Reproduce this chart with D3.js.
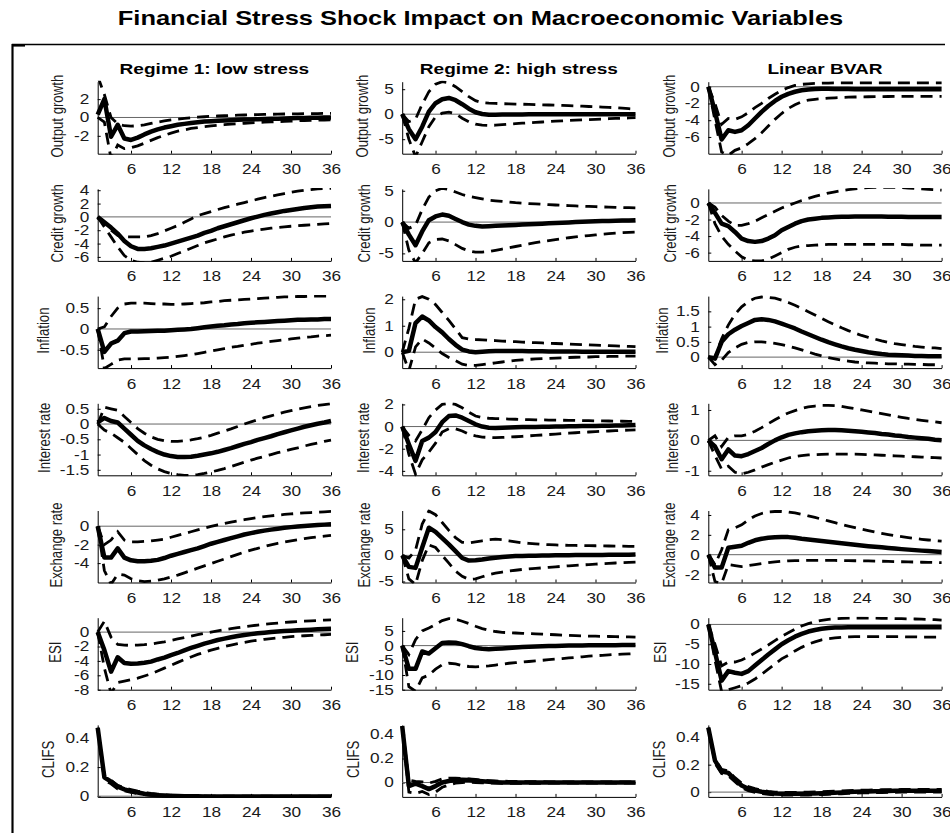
<!DOCTYPE html>
<html>
<head>
<meta charset="utf-8">
<script src="https://cdn.jsdelivr.net/npm/d3@7"></script>
<style>
body { margin: 0; background: #fff; }
svg { display: block; font-family: "Liberation Sans", Arial, Helvetica, sans-serif; }
</style>
</head>
<body>
<svg id="chart" width="950" height="833"></svg>
<script>
var title = 'Financial Stress Shock Impact on Macroeconomic Variables';
var models = ['Regime 1: low stress', 'Regime 2: high stress', 'Linear BVAR'];
var variables = ['Output growth', 'Credit growth', 'Inflation', 'Interest rate', 'Exchange rate', 'ESI', 'CLIFS'];
var horizons = d3.range(1, 37);
var xTicks = [6, 12, 18, 24, 30, 36];

// axis limits and tick labels, one entry per model column
var yLimits = [
	[[-3.95, 3.9], [-7.9, 6.5], [-8, 0.6]],
	[[-6.6, 4.2], [-6.2, 5.3], [-7, 1.7]],
	[[-0.94, 0.79], [-0.6, 2.12], [-0.36, 2.0]],
	[[-1.68, 0.68], [-4.4, 2.1], [-1.15, 1.22]],
	[[-6.1, 1.7], [-5.2, 8.6], [-2.8, 4.45]],
	[[-8, 2], [-15, 9.5], [-16.5, 1.7]],
	[[-0.005, 0.49], [-0.12, 0.48], [-0.035, 0.49]]
];
var yTicks = [
	[[-2, 0, 2], [-5, 0, 5], [-6, -4, -2, 0]],
	[[-6, -4, -2, 0, 2, 4], [-5, 0, 5], [-6, -4, -2, 0]],
	[[-0.5, 0, 0.5], [0, 1, 2], [0, 0.5, 1, 1.5]],
	[[-1.5, -1, -0.5, 0, 0.5], [-4, -2, 0, 2], [-1, 0, 1]],
	[[-4, -2, 0], [-5, 0, 5], [-2, 0, 2, 4]],
	[[-8, -6, -4, -2, 0], [-15, -10, -5, 0, 5], [-15, -10, -5, 0]],
	[[0, 0.2, 0.4], [0, 0.2, 0.4], [0, 0.2, 0.4]]
];

// impulse responses: median, lower and upper band, horizons 1..36
var outputLowMed = [0.3, 2.0, -2.1, -0.8, -2.3, -2.45, -2.2, -1.85, -1.55, -1.3, -1.1, -0.95, -0.8, -0.7, -0.6, -0.52, -0.45, -0.4, -0.36, -0.32, -0.29, -0.26, -0.23, -0.21, -0.19, -0.17, -0.15, -0.13, -0.11, -0.09, -0.07, -0.05, -0.04, -0.02, -0.01, 0.0];
var outputLowLo = [0.0, -0.5, -4.5, -3.0, -3.4, -3.3, -3.1, -2.8, -2.5, -2.2, -1.95, -1.7, -1.5, -1.35, -1.2, -1.1, -1.0, -0.92, -0.85, -0.79, -0.73, -0.68, -0.63, -0.59, -0.55, -0.51, -0.48, -0.45, -0.42, -0.39, -0.36, -0.34, -0.32, -0.3, -0.28, -0.26];
var outputLowHi = [4.5, 2.5, 0.0, -0.7, -0.9, -0.95, -0.9, -0.8, -0.65, -0.5, -0.38, -0.27, -0.18, -0.1, -0.03, 0.03, 0.08, 0.12, 0.16, 0.19, 0.22, 0.25, 0.27, 0.29, 0.31, 0.33, 0.35, 0.36, 0.38, 0.39, 0.4, 0.41, 0.42, 0.43, 0.44, 0.45];
var outputHighMed = [0, -3, -5, -2.5, 0.5, 2.2, 3.0, 3.25, 2.8, 2.0, 1.1, 0.4, 0.05, -0.1, -0.1, -0.08, -0.06, -0.05, -0.04, -0.03, -0.03, -0.02, -0.02, -0.01, -0.01, 0, 0, 0, 0, 0, 0, 0, 0, 0, 0, 0];
var outputHighLo = [0, -5, -8.5, -5.5, -2.5, -0.5, 0.2, 0.4, 0.1, -0.8, -1.5, -2.0, -2.2, -2.25, -2.2, -2.1, -2.0, -1.9, -1.8, -1.72, -1.64, -1.56, -1.48, -1.4, -1.33, -1.26, -1.2, -1.14, -1.08, -1.02, -0.96, -0.9, -0.85, -0.8, -0.75, -0.7];
var outputHighHi = [0, -1.5, -1.0, 2.0, 4.5, 6.0, 6.5, 6.3, 5.5, 4.5, 3.5, 2.7, 2.3, 2.2, 2.15, 2.1, 2.07, 2.03, 2.0, 1.96, 1.92, 1.88, 1.84, 1.8, 1.75, 1.7, 1.65, 1.6, 1.54, 1.48, 1.42, 1.36, 1.3, 1.2, 1.1, 1.0];
var outputLinMed = [0, -3, -6.3, -5.2, -5.4, -5.2, -4.6, -3.8, -3.0, -2.3, -1.7, -1.2, -0.85, -0.6, -0.42, -0.32, -0.27, -0.25, -0.25, -0.26, -0.27, -0.28, -0.29, -0.3, -0.3, -0.3, -0.3, -0.3, -0.3, -0.3, -0.3, -0.3, -0.3, -0.3, -0.3, -0.3];
var outputLinLo = [0, -4, -7.8, -8.2, -7.6, -7.3, -6.8, -6.2, -5.5, -4.7, -3.9, -3.2, -2.6, -2.15, -1.8, -1.6, -1.5, -1.42, -1.36, -1.32, -1.28, -1.25, -1.23, -1.21, -1.2, -1.19, -1.18, -1.17, -1.16, -1.15, -1.15, -1.15, -1.15, -1.15, -1.15, -1.15];
var outputLinHi = [0, -2, -4.5, -3.8, -3.9, -3.6, -3.1, -2.5, -2.0, -1.4, -0.9, -0.45, -0.1, 0.15, 0.28, 0.35, 0.4, 0.42, 0.44, 0.45, 0.45, 0.45, 0.45, 0.45, 0.45, 0.45, 0.45, 0.45, 0.45, 0.45, 0.45, 0.45, 0.45, 0.45, 0.45, 0.45];

var creditLowMed = [0, -0.8, -1.6, -2.5, -3.6, -4.4, -4.8, -4.8, -4.7, -4.5, -4.3, -4.0, -3.7, -3.4, -3.1, -2.8, -2.4, -2.1, -1.7, -1.4, -1.1, -0.8, -0.5, -0.2, 0.05, 0.3, 0.5, 0.7, 0.9, 1.05, 1.2, 1.35, 1.45, 1.55, 1.6, 1.65];
var creditLowLo = [0, -1.5, -3.0, -4.5, -5.8, -6.5, -6.8, -6.9, -6.8, -6.5, -6.2, -5.9, -5.5, -5.1, -4.7, -4.3, -3.9, -3.6, -3.3, -3.0, -2.75, -2.5, -2.3, -2.12, -1.96, -1.82, -1.7, -1.59, -1.49, -1.4, -1.32, -1.25, -1.18, -1.12, -1.06, -1.0];
var creditLowHi = [0, -0.8, -2.0, -2.8, -3.0, -3.0, -3.0, -3.0, -2.8, -2.5, -2.1, -1.7, -1.3, -0.8, -0.3, 0.2, 0.5, 0.8, 1.1, 1.4, 1.65, 1.9, 2.15, 2.4, 2.65, 2.9, 3.1, 3.3, 3.5, 3.7, 3.85, 4.0, 4.1, 4.2, 4.25, 4.3];
var creditHighMed = [0, -2, -3.7, -1.5, 0.3, 0.9, 1.2, 1.0, 0.5, 0.0, -0.4, -0.6, -0.7, -0.65, -0.6, -0.55, -0.5, -0.45, -0.4, -0.35, -0.3, -0.25, -0.2, -0.15, -0.1, -0.05, 0.0, 0.05, 0.1, 0.13, 0.16, 0.19, 0.22, 0.25, 0.27, 0.3];
var creditHighLo = [0, -4.5, -6.5, -5.0, -3.3, -2.8, -2.7, -3.0, -3.6, -4.2, -4.6, -4.8, -4.8, -4.7, -4.5, -4.3, -4.1, -3.9, -3.7, -3.5, -3.3, -3.1, -2.95, -2.8, -2.65, -2.5, -2.38, -2.26, -2.15, -2.05, -1.95, -1.86, -1.78, -1.7, -1.64, -1.6];
var creditHighHi = [0, -1, -0.5, 2.0, 4.0, 5.0, 5.4, 5.2, 4.8, 4.4, 4.1, 3.9, 3.7, 3.5, 3.4, 3.3, 3.2, 3.1, 3.03, 2.96, 2.9, 2.84, 2.78, 2.73, 2.68, 2.63, 2.58, 2.54, 2.5, 2.46, 2.42, 2.39, 2.36, 2.33, 2.3, 2.28];
var creditLinMed = [0, -1.2, -2.5, -2.8, -3.5, -4.3, -4.6, -4.7, -4.6, -4.3, -3.9, -3.3, -2.9, -2.5, -2.2, -2.0, -1.9, -1.8, -1.75, -1.7, -1.68, -1.66, -1.65, -1.65, -1.65, -1.65, -1.65, -1.66, -1.67, -1.68, -1.69, -1.7, -1.7, -1.7, -1.7, -1.7];
var creditLinLo = [0, -2.5, -4.0, -5.0, -5.8, -6.5, -6.9, -7.0, -7.0, -6.8, -6.4, -6.0, -5.6, -5.35, -5.2, -5.15, -5.1, -5.05, -5.0, -5.0, -5.0, -5.0, -5.0, -5.0, -5.0, -5.0, -5.0, -5.0, -5.0, -5.0, -5.05, -5.05, -5.1, -5.1, -5.1, -5.1];
var creditLinHi = [0, -0.5, -1.5, -2.2, -2.7, -2.7, -2.5, -2.2, -1.8, -1.4, -1.0, -0.6, -0.3, 0.0, 0.3, 0.55, 0.8, 1.0, 1.2, 1.35, 1.5, 1.6, 1.7, 1.8, 1.85, 1.9, 1.9, 1.9, 1.88, 1.85, 1.8, 1.75, 1.7, 1.65, 1.6, 1.55];

var inflationLowMed = [0, -0.55, -0.35, -0.28, -0.1, -0.06, -0.06, -0.055, -0.05, -0.045, -0.04, -0.03, -0.02, -0.01, 0.0, 0.02, 0.04, 0.06, 0.08, 0.09, 0.11, 0.12, 0.14, 0.15, 0.16, 0.17, 0.18, 0.19, 0.2, 0.21, 0.22, 0.22, 0.23, 0.23, 0.24, 0.24];
var inflationLowLo = [0, -0.95, -0.85, -0.75, -0.72, -0.72, -0.72, -0.71, -0.71, -0.7, -0.69, -0.68, -0.66, -0.64, -0.62, -0.59, -0.56, -0.53, -0.5, -0.47, -0.44, -0.42, -0.39, -0.37, -0.34, -0.32, -0.3, -0.28, -0.26, -0.24, -0.22, -0.2, -0.19, -0.17, -0.16, -0.15];
var inflationLowHi = [0, 0.05, 0.3, 0.5, 0.6, 0.62, 0.62, 0.62, 0.61, 0.6, 0.6, 0.59, 0.59, 0.6, 0.61, 0.62, 0.63, 0.65, 0.66, 0.68, 0.69, 0.7, 0.71, 0.72, 0.73, 0.74, 0.75, 0.76, 0.77, 0.77, 0.78, 0.78, 0.79, 0.79, 0.79, 0.79];
var inflationHighMed = [0, 0.05, 1.1, 1.35, 1.2, 0.95, 0.75, 0.5, 0.28, 0.1, 0.03, 0.0, 0.02, 0.04, 0.05, 0.05, 0.05, 0.05, 0.045, 0.04, 0.04, 0.035, 0.03, 0.03, 0.03, 0.025, 0.025, 0.02, 0.02, 0.02, 0.02, 0.02, 0.02, 0.02, 0.02, 0.02];
var inflationHighLo = [0, -0.7, 0.2, 0.5, 0.35, 0.15, -0.05, -0.2, -0.32, -0.45, -0.5, -0.5, -0.47, -0.44, -0.4, -0.37, -0.34, -0.31, -0.29, -0.27, -0.25, -0.24, -0.23, -0.22, -0.21, -0.2, -0.19, -0.18, -0.18, -0.17, -0.17, -0.16, -0.16, -0.15, -0.15, -0.15];
var inflationHighHi = [0, 0.9, 2.0, 2.1, 2.0, 1.8, 1.5, 1.2, 0.88, 0.55, 0.5, 0.48, 0.47, 0.45, 0.44, 0.42, 0.41, 0.4, 0.38, 0.37, 0.36, 0.35, 0.34, 0.33, 0.32, 0.31, 0.3, 0.29, 0.28, 0.27, 0.26, 0.25, 0.24, 0.23, 0.22, 0.21];
var inflationLinMed = [0, -0.05, 0.5, 0.75, 0.9, 1.02, 1.12, 1.22, 1.24, 1.22, 1.17, 1.1, 1.02, 0.94, 0.84, 0.75, 0.66, 0.57, 0.49, 0.42, 0.35, 0.29, 0.24, 0.2, 0.16, 0.13, 0.1, 0.08, 0.07, 0.06, 0.05, 0.04, 0.04, 0.03, 0.03, 0.03];
var inflationLinLo = [0, -0.25, -0.1, 0.15, 0.3, 0.42, 0.48, 0.5, 0.5, 0.48, 0.45, 0.41, 0.36, 0.3, 0.24, 0.17, 0.1, 0.04, -0.02, -0.06, -0.1, -0.13, -0.16, -0.18, -0.19, -0.2, -0.21, -0.22, -0.22, -0.23, -0.23, -0.24, -0.24, -0.25, -0.25, -0.25];
var inflationLinHi = [0, 0.0, 0.6, 1.05, 1.4, 1.65, 1.82, 1.93, 1.97, 1.96, 1.93, 1.87, 1.79, 1.7, 1.6, 1.49, 1.38, 1.27, 1.16, 1.06, 0.96, 0.87, 0.79, 0.71, 0.65, 0.59, 0.53, 0.48, 0.44, 0.41, 0.38, 0.35, 0.33, 0.31, 0.3, 0.28];

var rateLowMed = [0.05, 0.2, 0.1, 0.05, -0.15, -0.35, -0.55, -0.7, -0.82, -0.92, -1.0, -1.05, -1.08, -1.08, -1.07, -1.04, -1.0, -0.96, -0.91, -0.85, -0.79, -0.72, -0.65, -0.59, -0.52, -0.46, -0.4, -0.33, -0.27, -0.21, -0.15, -0.09, -0.04, 0.01, 0.05, 0.1];
var rateLowLo = [0, -0.2, -0.3, -0.45, -0.6, -0.8, -1.0, -1.2, -1.35, -1.47, -1.56, -1.62, -1.66, -1.68, -1.68, -1.66, -1.62, -1.57, -1.52, -1.46, -1.39, -1.32, -1.25, -1.18, -1.12, -1.06, -1.0, -0.94, -0.89, -0.83, -0.78, -0.72, -0.67, -0.62, -0.57, -0.53];
var rateLowHi = [0, 0.55, 0.5, 0.45, 0.25, 0.05, -0.15, -0.3, -0.42, -0.5, -0.55, -0.57, -0.57, -0.55, -0.52, -0.48, -0.43, -0.37, -0.3, -0.23, -0.16, -0.08, 0.0, 0.07, 0.14, 0.21, 0.27, 0.33, 0.39, 0.44, 0.49, 0.53, 0.57, 0.61, 0.64, 0.67];
var rateHighMed = [0, -1.6, -3.1, -1.3, -1.0, -0.5, 0.4, 0.95, 1.0, 0.8, 0.5, 0.2, 0.0, -0.1, -0.12, -0.1, -0.08, -0.06, -0.05, -0.04, -0.03, -0.02, -0.01, 0.0, 0.01, 0.02, 0.03, 0.04, 0.05, 0.06, 0.07, 0.08, 0.09, 0.1, 0.12, 0.15];
var rateHighLo = [0, -2.5, -4.3, -3.0, -2.3, -1.5, -0.5, -0.2, -0.2, -0.4, -0.7, -0.85, -0.95, -0.98, -1.0, -0.98, -0.95, -0.92, -0.88, -0.84, -0.8, -0.76, -0.72, -0.68, -0.64, -0.6, -0.56, -0.52, -0.49, -0.46, -0.43, -0.4, -0.37, -0.34, -0.32, -0.3];
var rateHighHi = [0, -0.8, -1.3, -0.3, 0.8, 1.5, 2.0, 2.1, 2.0, 1.7, 1.3, 0.95, 0.8, 0.75, 0.72, 0.7, 0.68, 0.66, 0.64, 0.62, 0.61, 0.6, 0.59, 0.58, 0.57, 0.56, 0.55, 0.54, 0.53, 0.52, 0.51, 0.5, 0.49, 0.48, 0.47, 0.46];
var rateLinMed = [0, -0.2, -0.62, -0.3, -0.5, -0.52, -0.45, -0.35, -0.25, -0.12, 0.0, 0.1, 0.18, 0.23, 0.27, 0.3, 0.32, 0.33, 0.34, 0.34, 0.33, 0.32, 0.3, 0.28, 0.26, 0.24, 0.21, 0.19, 0.16, 0.14, 0.11, 0.09, 0.07, 0.05, 0.02, 0.0];
var rateLinLo = [0, -0.5, -0.95, -0.85, -1.05, -1.1, -1.05, -0.97, -0.88, -0.8, -0.72, -0.65, -0.58, -0.53, -0.5, -0.48, -0.47, -0.46, -0.45, -0.45, -0.45, -0.45, -0.45, -0.46, -0.47, -0.48, -0.49, -0.5, -0.51, -0.52, -0.53, -0.54, -0.55, -0.56, -0.57, -0.58];
var rateLinHi = [0, 0.15, -0.2, 0.1, 0.15, 0.15, 0.2, 0.3, 0.42, 0.55, 0.68, 0.8, 0.9, 0.98, 1.05, 1.1, 1.13, 1.15, 1.15, 1.14, 1.12, 1.08, 1.04, 1.0, 0.96, 0.92, 0.88, 0.84, 0.8, 0.76, 0.72, 0.69, 0.66, 0.63, 0.61, 0.58];

var fxLowMed = [0, -3.4, -3.4, -2.4, -3.4, -3.7, -3.8, -3.8, -3.75, -3.65, -3.45, -3.2, -3.0, -2.8, -2.6, -2.4, -2.15, -1.9, -1.7, -1.5, -1.3, -1.1, -0.9, -0.75, -0.6, -0.48, -0.37, -0.27, -0.18, -0.1, -0.03, 0.03, 0.08, 0.13, 0.17, 0.2];
var fxLowLo = [0, -4.8, -6.3, -5.2, -5.3, -5.7, -5.9, -6.0, -5.95, -5.85, -5.7, -5.5, -5.3, -5.05, -4.8, -4.55, -4.3, -4.05, -3.8, -3.55, -3.3, -3.05, -2.8, -2.6, -2.4, -2.2, -2.02, -1.86, -1.72, -1.58, -1.46, -1.35, -1.25, -1.16, -1.08, -1.0];
var fxLowHi = [0, -2.0, -1.5, -0.6, -1.5, -1.7, -1.7, -1.65, -1.6, -1.5, -1.4, -1.2, -1.0, -0.8, -0.6, -0.4, -0.2, -0.02, 0.15, 0.3, 0.45, 0.58, 0.7, 0.82, 0.93, 1.03, 1.12, 1.2, 1.27, 1.33, 1.39, 1.44, 1.48, 1.52, 1.56, 1.6];
var fxHighMed = [0, -2.2, -2.4, 1.5, 5.3, 4.5, 3.3, 2.1, 0.8, -0.5, -1.0, -0.95, -0.8, -0.6, -0.45, -0.3, -0.2, -0.13, -0.1, -0.08, -0.06, -0.04, -0.02, 0.0, 0.02, 0.04, 0.05, 0.06, 0.07, 0.08, 0.09, 0.1, 0.11, 0.12, 0.13, 0.15];
var fxHighLo = [0, -4.5, -5.6, -1.0, 2.0, 1.5, 0.0, -1.5, -3.0, -4.0, -4.6, -4.5, -4.1, -3.7, -3.4, -3.2, -3.0, -2.85, -2.7, -2.6, -2.5, -2.4, -2.3, -2.2, -2.1, -2.0, -1.92, -1.84, -1.76, -1.68, -1.6, -1.53, -1.46, -1.4, -1.35, -1.3];
var fxHighHi = [0, -0.5, 1.0, 6.0, 8.5, 7.8, 6.3, 4.8, 3.4, 2.5, 2.4, 2.6, 2.8, 3.0, 3.1, 3.0, 2.8, 2.6, 2.4, 2.3, 2.2, 2.1, 2.05, 2.0, 1.95, 1.92, 1.9, 1.88, 1.86, 1.84, 1.82, 1.8, 1.78, 1.76, 1.74, 1.72];
var fxLinMed = [0, -1.3, -1.3, 0.7, 0.8, 0.9, 1.2, 1.45, 1.6, 1.7, 1.75, 1.78, 1.77, 1.7, 1.6, 1.52, 1.45, 1.38, 1.3, 1.22, 1.15, 1.07, 1.0, 0.93, 0.86, 0.8, 0.74, 0.68, 0.62, 0.56, 0.51, 0.46, 0.41, 0.36, 0.32, 0.28];
var fxLinLo = [0, -2.7, -2.9, -1.0, -1.1, -1.2, -1.1, -1.0, -0.9, -0.8, -0.72, -0.66, -0.62, -0.6, -0.58, -0.57, -0.57, -0.57, -0.57, -0.58, -0.59, -0.6, -0.61, -0.62, -0.63, -0.65, -0.66, -0.68, -0.7, -0.71, -0.73, -0.74, -0.76, -0.77, -0.79, -0.8];
var fxLinHi = [0, -1.0, 0.5, 2.5, 2.7, 3.0, 3.5, 3.9, 4.15, 4.3, 4.35, 4.35, 4.3, 4.2, 4.05, 3.9, 3.75, 3.58, 3.4, 3.22, 3.05, 2.88, 2.72, 2.56, 2.42, 2.28, 2.15, 2.03, 1.92, 1.82, 1.72, 1.63, 1.55, 1.48, 1.42, 1.36];

var esiLowMed = [0, -2.5, -5.5, -3.5, -4.3, -4.4, -4.35, -4.25, -4.1, -3.8, -3.55, -3.2, -2.9, -2.55, -2.2, -1.9, -1.6, -1.35, -1.1, -0.9, -0.72, -0.55, -0.4, -0.28, -0.17, -0.08, 0.0, 0.07, 0.14, 0.2, 0.25, 0.3, 0.34, 0.38, 0.42, 0.45];
var esiLowLo = [0, -5.0, -8.5, -7.0, -6.8, -6.6, -6.4, -6.1, -5.8, -5.4, -5.0, -4.6, -4.2, -3.8, -3.45, -3.1, -2.8, -2.5, -2.25, -2.0, -1.8, -1.6, -1.42, -1.26, -1.12, -1.0, -0.9, -0.8, -0.72, -0.64, -0.57, -0.51, -0.46, -0.41, -0.37, -0.33];
var esiLowHi = [0, 1.5, -0.7, -1.7, -1.8, -1.85, -1.8, -1.75, -1.65, -1.5, -1.35, -1.15, -0.95, -0.75, -0.55, -0.35, -0.17, 0.0, 0.17, 0.33, 0.48, 0.62, 0.75, 0.87, 0.98, 1.08, 1.17, 1.25, 1.33, 1.4, 1.46, 1.52, 1.57, 1.62, 1.66, 1.7];
var esiHighMed = [0, -7.9, -7.9, -2.0, -2.7, -0.9, 0.9, 1.1, 1.0, 0.5, -0.2, -0.8, -1.1, -1.2, -1.1, -0.95, -0.8, -0.65, -0.5, -0.4, -0.3, -0.22, -0.15, -0.1, -0.05, 0.0, 0.03, 0.06, 0.09, 0.11, 0.13, 0.15, 0.16, 0.17, 0.18, 0.2];
var esiHighLo = [0, -14.0, -15.5, -11.0, -10.0, -8.0, -6.5, -6.0, -6.2, -6.8, -7.1, -7.2, -7.1, -6.9, -6.6, -6.3, -6.0, -5.8, -5.6, -5.4, -5.2, -5.0, -4.8, -4.6, -4.4, -4.2, -4.0, -3.8, -3.6, -3.45, -3.3, -3.15, -3.0, -2.9, -2.8, -2.7];
var esiHighHi = [0, -3.0, 2.0, 5.0, 6.0, 7.2, 8.5, 9.2, 9.0, 8.3, 7.5, 6.6, 5.8, 5.2, 4.8, 4.5, 4.4, 4.3, 4.2, 4.1, 4.0, 3.9, 3.8, 3.7, 3.6, 3.5, 3.4, 3.3, 3.25, 3.2, 3.15, 3.1, 3.05, 3.0, 2.95, 2.9];
var esiLinMed = [0, -7.0, -14.2, -11.8, -12.2, -12.5, -11.8, -10.4, -9.0, -7.6, -6.3, -5.0, -4.0, -3.1, -2.4, -1.8, -1.4, -1.1, -0.9, -0.8, -0.75, -0.72, -0.7, -0.7, -0.7, -0.7, -0.7, -0.7, -0.7, -0.7, -0.7, -0.7, -0.7, -0.7, -0.7, -0.7];
var esiLinLo = [0, -9.0, -17.0, -16.5, -16.0, -15.5, -14.8, -13.8, -12.6, -11.3, -10.0, -8.7, -7.8, -6.7, -5.8, -5.0, -4.4, -3.9, -3.6, -3.4, -3.25, -3.15, -3.1, -3.1, -3.1, -3.1, -3.1, -3.1, -3.1, -3.1, -3.15, -3.15, -3.2, -3.2, -3.2, -3.2];
var esiLinHi = [0, -5.0, -10.5, -9.5, -9.5, -9.0, -8.2, -7.2, -6.2, -5.2, -4.1, -3.0, -2.1, -1.2, -0.4, 0.2, 0.7, 1.05, 1.3, 1.45, 1.55, 1.6, 1.62, 1.62, 1.6, 1.58, 1.55, 1.52, 1.49, 1.45, 1.41, 1.37, 1.32, 1.26, 1.2, 1.1];

var clifsLowMed = [0.47, 0.13, 0.1, 0.065, 0.047, 0.035, 0.025, 0.017, 0.011, 0.007, 0.004, 0.002, 0.001, 0.0, -0.001, -0.001, -0.002, -0.002, -0.002, -0.002, -0.002, -0.002, -0.002, -0.002, -0.002, -0.002, -0.002, -0.002, -0.002, -0.002, -0.002, -0.002, -0.002, -0.002, -0.002, -0.002];
var clifsLowLo = [0.47, 0.11, 0.085, 0.05, 0.036, 0.026, 0.017, 0.01, 0.005, 0.002, 0.0, -0.002, -0.003, -0.004, -0.004, -0.005, -0.005, -0.005, -0.005, -0.005, -0.005, -0.005, -0.005, -0.005, -0.005, -0.005, -0.005, -0.005, -0.005, -0.005, -0.005, -0.005, -0.005, -0.005, -0.005, -0.005];
var clifsLowHi = [0.47, 0.14, 0.11, 0.075, 0.057, 0.045, 0.034, 0.026, 0.019, 0.014, 0.01, 0.007, 0.005, 0.004, 0.003, 0.002, 0.002, 0.001, 0.001, 0.001, 0.001, 0.001, 0.001, 0.001, 0.001, 0.001, 0.001, 0.001, 0.001, 0.001, 0.001, 0.001, 0.001, 0.001, 0.001, 0.001];
var clifsHighMed = [0.47, -0.03, -0.01, -0.03, -0.055, -0.03, 0.0, 0.012, 0.02, 0.022, 0.02, 0.015, 0.01, 0.006, 0.003, 0.001, 0.0, 0.0, 0.0, 0.0, 0.0, 0.0, 0.0, 0.0, 0.0, 0.0, 0.0, 0.0, 0.0, 0.0, 0.0, 0.0, 0.0, 0.0, 0.0, 0.0];
var clifsHighLo = [0.47, -0.08, -0.09, -0.075, -0.1, -0.08, -0.04, -0.02, -0.006, 0.0, 0.002, 0.0, -0.003, -0.005, -0.006, -0.007, -0.007, -0.007, -0.007, -0.007, -0.007, -0.006, -0.006, -0.006, -0.006, -0.006, -0.005, -0.005, -0.005, -0.005, -0.005, -0.005, -0.005, -0.005, -0.005, -0.005];
var clifsHighHi = [0.47, 0.02, 0.01, 0.005, -0.005, 0.01, 0.03, 0.036, 0.036, 0.034, 0.03, 0.025, 0.02, 0.016, 0.013, 0.011, 0.01, 0.009, 0.008, 0.008, 0.007, 0.007, 0.006, 0.006, 0.006, 0.005, 0.005, 0.005, 0.005, 0.005, 0.005, 0.005, 0.005, 0.005, 0.005, 0.005];
var clifsLinMed = [0.47, 0.23, 0.15, 0.14, 0.09, 0.048, 0.025, 0.012, 0.002, -0.005, -0.01, -0.012, -0.012, -0.012, -0.012, -0.011, -0.01, -0.008, -0.006, -0.004, -0.002, 0.0, 0.002, 0.004, 0.005, 0.006, 0.007, 0.008, 0.009, 0.01, 0.01, 0.01, 0.01, 0.01, 0.01, 0.01];
var clifsLinLo = [0.47, 0.21, 0.135, 0.12, 0.075, 0.032, 0.01, -0.002, -0.01, -0.016, -0.02, -0.022, -0.022, -0.022, -0.022, -0.021, -0.02, -0.018, -0.016, -0.014, -0.012, -0.01, -0.008, -0.006, -0.005, -0.004, -0.003, -0.002, -0.001, 0.0, 0.0, 0.0, 0.0, 0.0, 0.0, 0.0];
var clifsLinHi = [0.47, 0.24, 0.165, 0.155, 0.105, 0.065, 0.04, 0.025, 0.013, 0.005, 0.0, -0.002, -0.002, -0.002, -0.001, 0.0, 0.001, 0.003, 0.005, 0.007, 0.009, 0.011, 0.013, 0.014, 0.015, 0.016, 0.017, 0.018, 0.018, 0.019, 0.019, 0.019, 0.019, 0.019, 0.019, 0.019];

// rows = variables, columns = models; each cell = [median, lower, upper]
var panels = [
	[[outputLowMed, outputLowLo, outputLowHi], [outputHighMed, outputHighLo, outputHighHi], [outputLinMed, outputLinLo, outputLinHi]],
	[[creditLowMed, creditLowLo, creditLowHi], [creditHighMed, creditHighLo, creditHighHi], [creditLinMed, creditLinLo, creditLinHi]],
	[[inflationLowMed, inflationLowLo, inflationLowHi], [inflationHighMed, inflationHighLo, inflationHighHi], [inflationLinMed, inflationLinLo, inflationLinHi]],
	[[rateLowMed, rateLowLo, rateLowHi], [rateHighMed, rateHighLo, rateHighHi], [rateLinMed, rateLinLo, rateLinHi]],
	[[fxLowMed, fxLowLo, fxLowHi], [fxHighMed, fxHighLo, fxHighHi], [fxLinMed, fxLinLo, fxLinHi]],
	[[esiLowMed, esiLowLo, esiLowHi], [esiHighMed, esiHighLo, esiHighHi], [esiLinMed, esiLinLo, esiLinHi]],
	[[clifsLowMed, clifsLowLo, clifsLowHi], [clifsHighMed, clifsHighLo, clifsHighHi], [clifsLinMed, clifsLinLo, clifsLinHi]]
];

// layout
var SX = 1.23; // the figure is a bit wider than tall, so text is stretched
var colX = [97.7, 402.2, 708.3],
    plotW = 233.3,
    plotH = 72,
    rowTop = 81.7,
    rowStep = 107.2;
var ylabelX = [
	[57.5, 363, 670],
	[57.5, 365, 671],
	[44, 370, 662.5],
	[45, 364, 672.5],
	[56.7, 365, 670],
	[55.8, 353, 661],
	[48.3, 354, 660]
];

var svg = d3.select('#chart');

function place(x, y, rot) {
	return 'translate(' + x + ',' + y + ') scale(' + SX + ',1)' + (rot ? ' rotate(-90)' : '');
}

// frame
svg.append('path')
	.attr('d', 'M12.5,833 V44.5 H945')
	.attr('fill', 'none')
	.attr('stroke', '#000')
	.attr('stroke-width', 1.3);
svg.append('line')
	.attr('x1', 12.5).attr('x2', 12.5).attr('y1', 44).attr('y2', 833)
	.attr('stroke', '#000').attr('stroke-width', 2);
svg.append('line')
	.attr('x1', 12).attr('x2', 25).attr('y1', 45.3).attr('y2', 45.3)
	.attr('stroke', '#000').attr('stroke-width', 2.6);

svg.append('text')
	.attr('transform', place(480.5, 25))
	.attr('text-anchor', 'middle')
	.style('font-size', '20.7px')
	.style('font-weight', 'bold')
	.text(title);

models.forEach(function(m, c) {
	svg.append('text')
		.attr('transform', place(colX[c] + plotW / 2, 74.3))
		.attr('text-anchor', 'middle')
		.style('font-size', '15.5px')
		.style('font-weight', 'bold')
		.text(m);
});

variables.forEach(function(name, r) {
	models.forEach(function(m, c) {
		var x0 = colX[c],
		    top = rowTop + r * rowStep;
		var x = d3.scaleLinear().domain([1, 36]).range([x0, x0 + plotW]);
		var y = d3.scaleLinear().domain(yLimits[r][c]).range([top + plotH, top]);
		var g = svg.append('g');

		var clipId = 'clip-' + r + '-' + c;
		g.append('clipPath').attr('id', clipId)
		  .append('rect')
		    .attr('x', x0 - 3).attr('y', top - 1)
		    .attr('width', plotW + 6).attr('height', plotH + 2);

		var yAxis = d3.axisLeft(y)
			.tickValues(yTicks[r][c])
			.tickSizeInner(-3).tickSizeOuter(0)
			.tickPadding(6.8)
			.tickFormat(function(d) { return String(d) });
		var xAxis = d3.axisBottom(x)
			.tickValues(xTicks)
			.tickSizeInner(-3).tickSizeOuter(0)
			.tickPadding(10.5);

		var ya = g.append('g')
			.attr('transform', 'translate(' + x0 + ',0)')
			.call(yAxis);
		var xa = g.append('g')
			.attr('transform', 'translate(0,' + (top + plotH) + ')')
			.call(xAxis);
		[ya, xa].forEach(function(a) {
			a.attr('font-family', null).attr('font-size', null);
			a.select('.domain').attr('stroke', '#000').attr('stroke-width', 1);
			a.selectAll('.tick line').attr('stroke', '#000');
			a.selectAll('.tick text')
				.attr('fill', '#1a1a1a')
				.style('font-size', '14px')
				.attr('transform', 'scale(' + SX + ',1)');
		});

		g.append('text')
			.attr('transform', place(ylabelX[r][c], top + plotH / 2 - 1.5, true))
			.attr('text-anchor', 'middle')
			.attr('dominant-baseline', 'central')
			.attr('fill', '#1a1a1a')
			.style('font-size', '13.2px')
			.text(name);

		var plot = g.append('g').attr('clip-path', 'url(#' + clipId + ')');

		plot.append('line')
			.attr('x1', x0).attr('x2', x0 + plotW)
			.attr('y1', y(0)).attr('y2', y(0))
			.attr('stroke', '#666').attr('stroke-width', 1);

		var line = d3.line()
			.x(function(d, i) { return x(horizons[i]) })
			.y(function(d) { return y(d) });

		var series = panels[r][c];
		plot.selectAll('path.band')
			.data([series[1], series[2]])
		  .enter().append('path')
			.attr('class', 'band')
			.attr('d', line)
			.attr('fill', 'none')
			.attr('stroke', '#000')
			.attr('stroke-width', 2.8)
			.attr('stroke-dasharray', '12,7');

		plot.append('path')
			.attr('d', line(series[0]))
			.attr('fill', 'none')
			.attr('stroke', '#000')
			.attr('stroke-width', 4.5)
			.attr('stroke-linejoin', 'round');
	});
});
</script>
</body>
</html>
